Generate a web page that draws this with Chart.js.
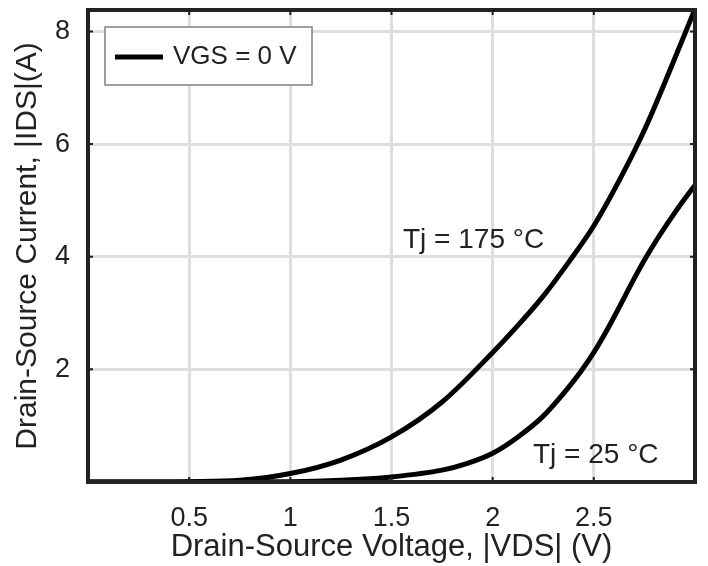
<!DOCTYPE html>
<html>
<head>
<meta charset="utf-8">
<script src="https://cdn.jsdelivr.net/npm/chart.js@4"></script>
<style>
  html, body { margin: 0; padding: 0; background: #fff; }
  #wrap { width: 708px; height: 566px; }
</style>
</head>
<body>
<div id="wrap"><canvas id="myChart" width="708" height="566"></canvas></div>
<script>
// Datos
const vds175 = [0, 0.25, 0.5, 0.75, 1.0, 1.25, 1.5, 1.75, 2.0, 2.125, 2.25, 2.375, 2.5, 2.625, 2.75, 2.875, 3.0];
const ids175 = [0, 0, 0.005, 0.03, 0.15, 0.39, 0.8, 1.42, 2.3, 2.78, 3.3, 3.9, 4.55, 5.35, 6.25, 7.3, 8.4];
const vds25 = [0, 0.5, 1.0, 1.25, 1.5, 1.75, 1.875, 2.0, 2.125, 2.25, 2.375, 2.4375, 2.5, 2.5625, 2.625, 2.6875, 2.75, 2.8125, 2.875, 2.9375, 3.0];
const ids25 = [0, 0, 0.005, 0.03, 0.09, 0.21, 0.33, 0.51, 0.8, 1.17, 1.68, 1.97, 2.3, 2.68, 3.1, 3.53, 3.94, 4.31, 4.65, 4.97, 5.27];
const xTickLabels = ['0.5', '1', '1.5', '2', '2.5'];
const yTickLabels = ['2', '4', '6', '8'];
const legendLabel = 'VGS = 0 V';
const curveLabels = ['Tj = 175 °C', 'Tj = 25 °C'];

const FONT = '"Liberation Sans", Arial, Helvetica, sans-serif';
const INK = '#222';

const toPoints = (xs, ys) => xs.map((x, i) => ({ x: x, y: ys[i] }));

// Marco, marcas, leyenda y etiquetas de las curvas
const framePlugin = {
    id: 'frame',
    afterDatasetsDraw(chart) {
        const { ctx, chartArea: a, scales } = chart;
        ctx.save();
        ctx.strokeStyle = INK;
        ctx.lineWidth = 4;
        ctx.strokeRect(a.left, a.top, a.right - a.left, a.bottom - a.top);

        // pequeñas marcas hacia dentro
        ctx.lineWidth = 2;
        ctx.beginPath();
        scales.x.ticks.forEach(t => {
            const px = scales.x.getPixelForValue(t.value);
            ctx.moveTo(px, a.bottom); ctx.lineTo(px, a.bottom - 5);
            ctx.moveTo(px, a.top); ctx.lineTo(px, a.top + 5);
        });
        scales.y.ticks.forEach(t => {
            const py = scales.y.getPixelForValue(t.value);
            ctx.moveTo(a.left, py); ctx.lineTo(a.left + 5, py);
            ctx.moveTo(a.right, py); ctx.lineTo(a.right - 5, py);
        });
        ctx.stroke();

        // leyenda
        ctx.fillStyle = '#fff';
        ctx.fillRect(105, 27, 207, 58);
        ctx.strokeStyle = '#808080';
        ctx.lineWidth = 1.5;
        ctx.strokeRect(105, 27, 207, 58);
        ctx.strokeStyle = '#000';
        ctx.lineWidth = 5;
        ctx.beginPath();
        ctx.moveTo(115, 57);
        ctx.lineTo(163, 57);
        ctx.stroke();
        ctx.fillStyle = INK;
        ctx.font = '26px ' + FONT;
        ctx.textBaseline = 'middle';
        ctx.fillText(legendLabel, 173, 57);

        // etiquetas Tj
        ctx.font = '28px ' + FONT;
        ctx.textBaseline = 'alphabetic';
        ctx.fillText(curveLabels[0], 403, 248);
        ctx.fillText(curveLabels[1], 533, 463);
        ctx.restore();
    }
};

const ctx = document.getElementById('myChart').getContext('2d');
const myChart = new Chart(ctx, {
    type: 'line',
    data: {
        datasets: [
            {
                label: curveLabels[0],
                data: toPoints(vds175, ids175),
                borderColor: '#000',
                borderWidth: 5,
                pointRadius: 0,
                cubicInterpolationMode: 'monotone',
                fill: false
            },
            {
                label: curveLabels[1],
                data: toPoints(vds25, ids25),
                borderColor: '#000',
                borderWidth: 5,
                pointRadius: 0,
                cubicInterpolationMode: 'monotone',
                fill: false
            }
        ]
    },
    options: {
        responsive: false,
        animation: false,
        layout: { padding: { top: 10, right: 13, left: 0, bottom: 0 } },
        plugins: {
            legend: { display: false },
            tooltip: { enabled: false }
        },
        scales: {
            x: {
                type: 'linear',
                min: 0,
                max: 3,
                afterFit: s => {
                    s.height = 84;
                    s.paddingLeft = 0; s.paddingRight = 0;
                },
                ticks: {
                    stepSize: 0.5,
                    includeBounds: false,
                    color: INK,
                    font: { family: FONT, size: 27 },
                    padding: 20,
                    maxRotation: 0,
                    callback: v => {
                        const t = String(v);
                        return xTickLabels.includes(t) ? t : '';
                    }
                },
                grid: { color: '#dedede', lineWidth: 3, drawTicks: false },
                border: { display: false },
                title: {
                    display: true,
                    text: 'Drain-Source Voltage, |VDS| (V)',
                    color: INK,
                    font: { family: FONT, size: 31 },
                    padding: { top: 0, bottom: 0 }
                }
            },
            y: {
                type: 'linear',
                min: 0,
                max: 8.38,
                afterFit: s => {
                    s.width = 88;
                    s.paddingTop = 0; s.paddingBottom = 0;
                },
                ticks: {
                    stepSize: 2,
                    includeBounds: false,
                    color: INK,
                    font: { family: FONT, size: 27 },
                    padding: 18,
                    callback: v => {
                        const t = String(v);
                        return yTickLabels.includes(t) ? t : '';
                    }
                },
                grid: { color: '#dedede', lineWidth: 3, drawTicks: false },
                border: { display: false },
                title: {
                    display: true,
                    text: 'Drain-Source Current, |IDS|(A)',
                    color: INK,
                    font: { family: FONT, size: 30 },
                    padding: { top: 10, bottom: 0 }
                }
            }
        }
    },
    plugins: [framePlugin]
});
</script>
</body>
</html>
